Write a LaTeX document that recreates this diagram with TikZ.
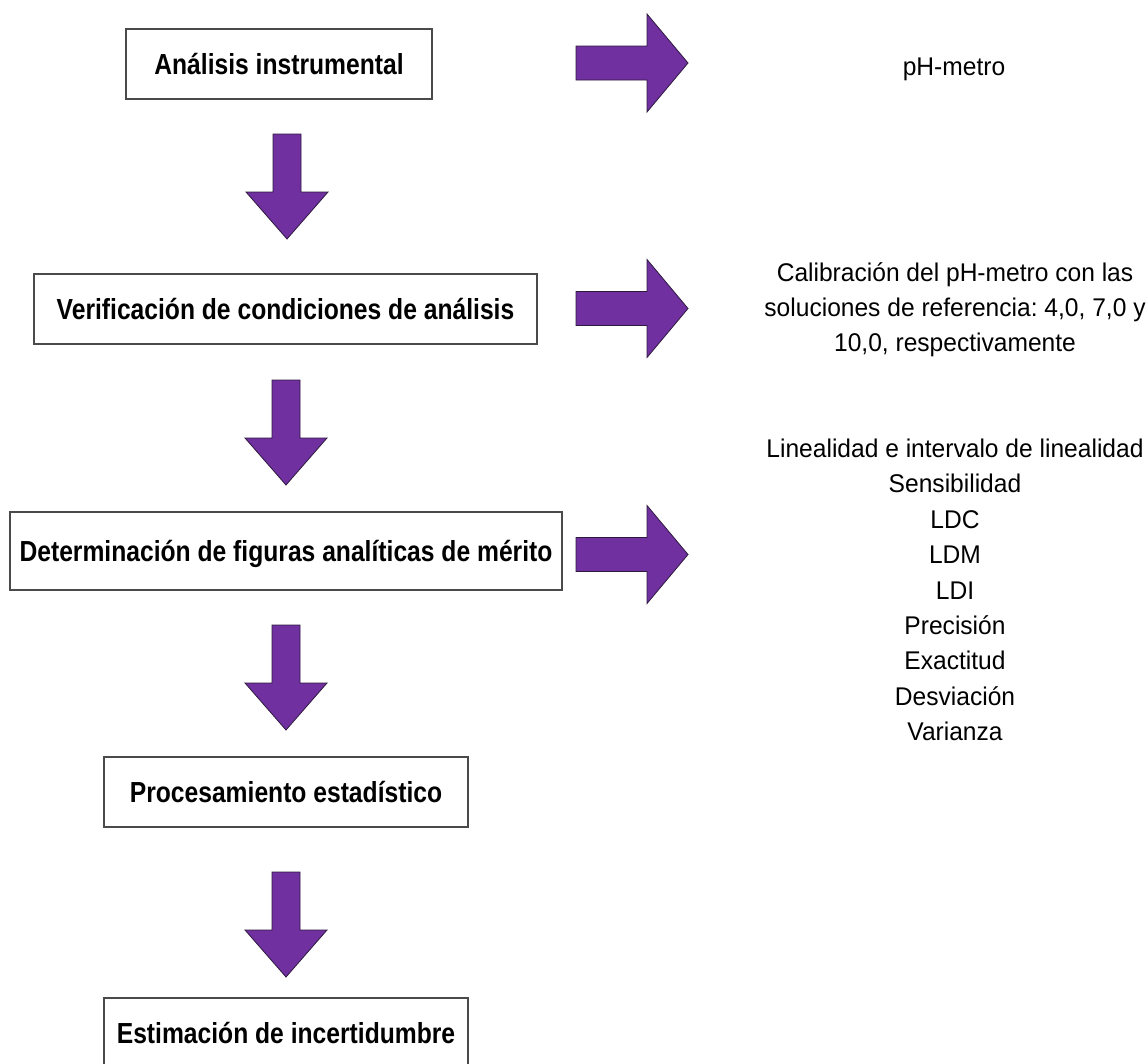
\documentclass[tikz,border=0pt]{standalone}
\usepackage{fontspec}
\frenchspacing
\newfontfamily\boxfont[FakeStretch=0.85]{Liberation Sans}
\newfontfamily\notefont[FakeStretch=0.96]{Liberation Sans}
\definecolor{arrowpurple}{HTML}{7030A0}
\definecolor{arrowline}{HTML}{2E1A3F}
\definecolor{boxline}{HTML}{4A4A4A}
\newcommand\blockdown[2]{%
  \filldraw[barrow] (#1-14,-#2) -- (#1+14,-#2) -- (#1+14,-#2-58) -- (#1+41,-#2-58)
    -- (#1,-#2-105) -- (#1-41,-#2-58) -- (#1-14,-#2-58) -- cycle;}
\newcommand\blockright[1]{%
  \filldraw[barrow] (576,-#1+17) -- (647,-#1+17) -- (647,-#1+49) -- (688,-#1)
    -- (647,-#1-49) -- (647,-#1-17) -- (576,-#1-17) -- cycle;}
\tikzset{
  box/.style={draw=boxline, line width=1.2pt, fill=white, inner sep=0pt,
    font=\boxfont\bfseries\fontsize{29}{34}\selectfont,
    text height=20.8pt, text depth=0pt},
  note/.style={inner sep=0pt, align=center,
    font=\notefont\fontsize{25.6}{35.4}\selectfont},
  barrow/.style={fill=arrowpurple, draw=arrowline, line width=0.8pt, line join=miter}
}
\begin{document}
\begin{tikzpicture}[x=1pt,y=1pt]
\useasboundingbox (0,0) rectangle (1147,-1063);
\fill[white] (0,0) rectangle (1147,-1063);
% boxes
\node[box, minimum width=306, minimum height=70] (b1) at (279,-64) {Análisis instrumental};
\node[box, minimum width=503, minimum height=70] (b2) at (285.5,-309) {Verificación de condiciones de análisis};
\node[box, minimum width=552, minimum height=78] (b3) at (286,-551) {Determinación de figuras analíticas de mérito};
\node[box, minimum width=364, minimum height=70] (b4) at (286,-792) {Procesamiento estadístico};
\node[box, minimum width=364, minimum height=70] (b5) at (286,-1033) {Estimación de incertidumbre};
% down block arrows
\blockdown{287}{134}
\blockdown{286}{380}
\blockdown{286}{625}
\blockdown{286}{872}
% right block arrows
\blockright{63}
\blockright{308.5}
\blockright{554.5}
% notes
\node[note, anchor=base] (t1) at (954,-75) {pH-metro};
\node[note, anchor=north] (t2) at (955,-262) {Calibración del pH-metro con las\\soluciones de referencia: 4,0, 7,0 y\\10,0, respectivamente};
\node[note, anchor=north] (t3) at (955,-438.7) {Linealidad e intervalo de linealidad\\Sensibilidad\\LDC\\LDM\\LDI\\Precisión\\Exactitud\\Desviación\\Varianza};
\end{tikzpicture}
\end{document}
